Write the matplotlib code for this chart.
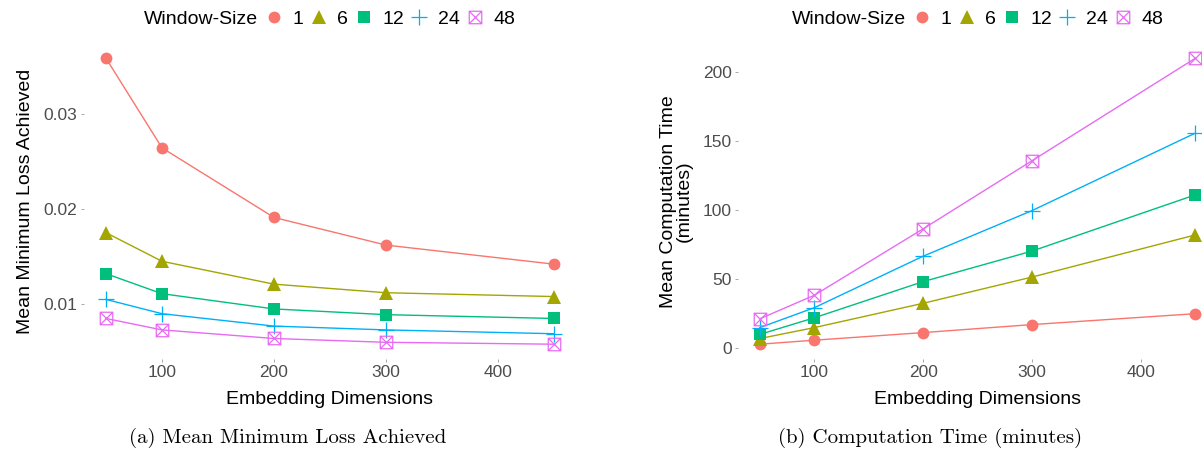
import matplotlib
matplotlib.use("Agg")
import matplotlib.pyplot as plt
from matplotlib.path import Path
from matplotlib.lines import Line2D

plt.rcParams['font.family'] = ['Liberation Sans', 'DejaVu Sans']

# data
dims = [50, 100, 200, 300, 450]
window_sizes = ['1', '6', '12', '24', '48']

loss_1 = [0.0358, 0.0264, 0.0191, 0.0162, 0.0142]
loss_6 = [0.0175, 0.0145, 0.0121, 0.0112, 0.0108]
loss_12 = [0.0132, 0.0111, 0.0095, 0.0089, 0.0085]
loss_24 = [0.0105, 0.0090, 0.0077, 0.0073, 0.0069]
loss_48 = [0.0085, 0.0073, 0.0064, 0.0060, 0.0058]

time_1 = [2.9, 5.8, 11.3, 17.1, 25.0]
time_6 = [7.0, 14.9, 32.5, 51.5, 82.0]
time_12 = [10.0, 22.0, 48.2, 70.3, 111.0]
time_24 = [14.9, 29.3, 66.6, 99.6, 155.7]
time_48 = [21.3, 38.3, 86.4, 135.7, 209.9]

loss_all = [loss_1, loss_6, loss_12, loss_24, loss_48]
time_all = [time_1, time_6, time_12, time_24, time_48]

colors = ['#F8766D', '#A3A500', '#00BF7D', '#00B0F6', '#E76BF3']

# ggplot shape 7: square with a cross inside
boxx = Path([(-1, -1), (1, -1), (1, 1), (-1, 1), (-1, -1),
             (-1, -1), (1, 1), (-1, 1), (1, -1)],
            [Path.MOVETO, Path.LINETO, Path.LINETO, Path.LINETO, Path.CLOSEPOLY,
             Path.MOVETO, Path.LINETO, Path.MOVETO, Path.LINETO])

styles = [
    dict(marker='o', ms=8.5, mfc=None, mew=0),
    dict(marker='^', ms=9.5, mfc=None, mew=0),
    dict(marker='s', ms=8, mfc=None, mew=0),
    dict(marker='+', ms=12, mfc=None, mew=0.9),
    dict(marker=boxx, ms=9, mfc='none', mew=0.9),
]

W, H = 1202, 461
fig = plt.figure(figsize=(W / 100, H / 100), dpi=100, facecolor='white')

tick_col = '#4D4D4D'


def draw_panel(ax, series, yticks, yfmt, ylabel):
    for vals, col, st in zip(series, colors, styles):
        ax.plot(dims, vals, color=col, lw=1.0, marker=st['marker'], ms=st['ms'],
                mfc=col if st['mfc'] is None else st['mfc'], mec=col, mew=st['mew'],
                clip_on=False)
    ax.margins(x=0.05, y=0.05)
    ax.set_xticks([100, 200, 300, 400])
    ax.set_yticks(yticks)
    ax.set_yticklabels([yfmt(v) for v in yticks])
    for s in ax.spines.values():
        s.set_visible(False)
    ax.tick_params(axis='both', length=2.5, width=0.6, color='#999999',
                   labelcolor=tick_col, labelsize=12.5, pad=2)
    ax.set_xlabel('Embedding Dimensions', fontsize=14, labelpad=8)
    ax.set_ylabel(ylabel, fontsize=14, labelpad=7, linespacing=0.95)


y0 = (H - 358.5) / H
hgt = (358.5 - 44) / H
ax1 = fig.add_axes([83.6 / W, y0, (576.4 - 83.6) / W, hgt])
ax2 = fig.add_axes([738 / W, y0, (1217 - 738) / W, hgt])

draw_panel(ax1, loss_all, [0.01, 0.02, 0.03], lambda v: f'{v:.2f}',
           'Mean Minimum Loss Achieved')
draw_panel(ax2, time_all, [0, 50, 100, 150, 200], lambda v: f'{v:g}',
           'Mean Computation Time\n(minutes)')

# legends on top
handles = []
for col, st in zip(colors, styles):
    handles.append(Line2D([], [], ls='none', color=col, marker=st['marker'], ms=st['ms'],
                          mfc=col if st['mfc'] is None else st['mfc'], mec=col,
                          mew=st['mew']))

ly = 1 - 19 / H
for tx in (258, 906):
    fig.text(tx / W, ly, 'Window-Size', ha='right', va='center', fontsize=14)
    fig.legend(handles, window_sizes, loc='center left',
               bbox_to_anchor=((tx + 6) / W, ly), ncol=5, frameon=False,
               handlelength=1.0, handletextpad=0.45, columnspacing=0.3,
               fontsize=14, borderpad=0, borderaxespad=0)

# captions
cap_y = 1 - 438 / H
fig.text(288 / W, cap_y, '(a) Mean Minimum Loss Achieved', ha='center', va='center',
         fontsize=15, family=['cmr10', 'DejaVu Serif'])
fig.text(930 / W, cap_y, '(b) Computation Time (minutes)', ha='center', va='center',
         fontsize=15, family=['cmr10', 'DejaVu Serif'])

fig.savefig('out.png', dpi=100, facecolor='white')
